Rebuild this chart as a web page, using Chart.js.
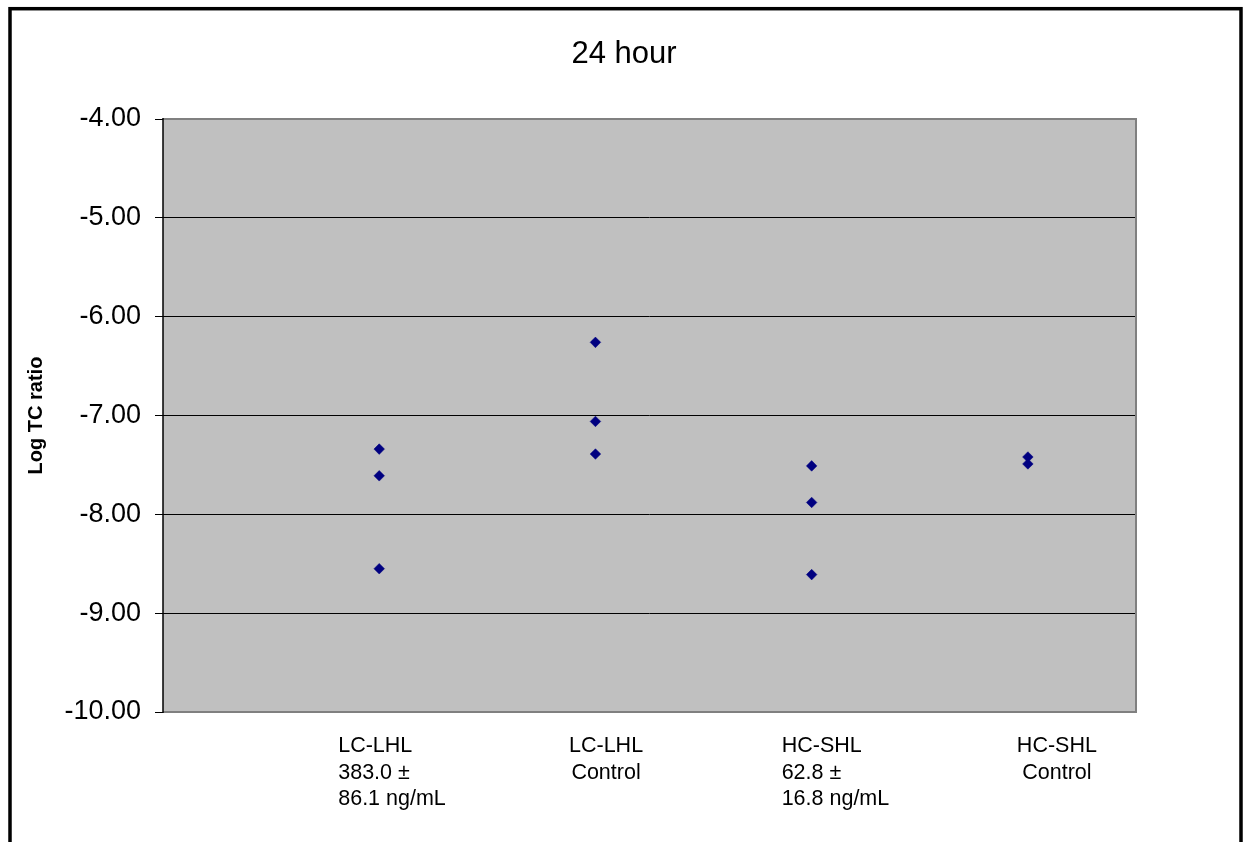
<!DOCTYPE html>
<html>
<head>
<meta charset="utf-8">
<title>24 hour</title>
<script src="https://cdn.jsdelivr.net/npm/chart.js@4.4.0/dist/chart.umd.min.js"></script>
<style>
  html, body { margin: 0; padding: 0; background: #fff; }
  canvas { display: block; }
</style>
</head>
<body>
<canvas id="logChart" width="1248" height="842"></canvas>
<script>
const chartTitle = '24 hour';
const yAxisTitle = 'Log TC ratio';

// one entry per group, lines of the label under the axis
const groupLabels = [
    ['LC-LHL', '383.0 ±', '86.1 ng/mL'],
    ['LC-LHL', 'Control'],
    ['HC-SHL', '62.8 ±', '16.8 ng/mL'],
    ['HC-SHL', 'Control']
];
const groupPositions = [1, 2, 3, 4];

// log TC ratio per replicate
const lcLhlValues = [-7.34, -7.61, -8.55];
const lcLhlControlValues = [-6.26, -7.06, -7.39];
const hcShlValues = [-7.51, -7.88, -8.61];
const hcShlControlValues = [-7.42, -7.49];

const yTicks = [-4, -5, -6, -7, -8, -9, -10];

const groupValues = [lcLhlValues, lcLhlControlValues, hcShlValues, hcShlControlValues];
const points = groupValues.flatMap((vals, i) => vals.map(v => ({ x: groupPositions[i], y: v })));

const FONT = '"Liberation Sans", Arial, sans-serif';

// draws the Excel-like frame, title and the group captions
const excelFrame = {
    id: 'excelFrame',
    beforeDraw(chart) {
        const { ctx, chartArea: a } = chart;
        ctx.save();
        ctx.fillStyle = '#ffffff';
        ctx.fillRect(0, 0, chart.width, chart.height);
        ctx.fillStyle = '#c0c0c0';
        ctx.fillRect(a.left, a.top, a.right - a.left, a.bottom - a.top);
        ctx.restore();
    },
    beforeDatasetsDraw(chart) {
        const { ctx, chartArea: a } = chart;
        ctx.save();
        ctx.strokeStyle = '#808080';
        ctx.lineWidth = 2;
        ctx.beginPath();
        ctx.moveTo(a.left, a.top);
        ctx.lineTo(a.right, a.top);
        ctx.lineTo(a.right, a.bottom);
        ctx.lineTo(a.left, a.bottom);
        ctx.stroke();
        ctx.strokeStyle = '#000000';
        ctx.lineWidth = 1.5;
        ctx.beginPath();
        ctx.moveTo(a.left, a.top - 1);
        ctx.lineTo(a.left, a.bottom + 1);
        ctx.stroke();
        ctx.restore();
    },
    afterDraw(chart, args, opts) {
        const { ctx } = chart;
        const xScale = chart.scales.x;
        ctx.save();
        // outer chart border (bottom edge runs off the picture)
        ctx.strokeStyle = '#000000';
        ctx.lineWidth = 3.5;
        ctx.strokeRect(10, 8.7, 1231, 1000);

        ctx.fillStyle = '#000000';
        ctx.font = '31px ' + FONT;
        ctx.textAlign = 'center';
        ctx.textBaseline = 'alphabetic';
        ctx.fillText(chartTitle, chart.width / 2, 63);

        ctx.font = '21.5px ' + FONT;
        groupLabels.forEach((lines, i) => {
            const x = xScale.getPixelForValue(groupPositions[i]) + opts.offsets[i];
            ctx.textAlign = opts.aligns[i];
            lines.forEach((line, j) => {
                ctx.fillText(line, x, 752 + j * 26.5);
            });
        });
        ctx.restore();
    }
};

new Chart(document.getElementById('logChart'), {
    type: 'scatter',
    data: {
        datasets: [{
            label: 'Log TC ratio',
            data: points,
            pointStyle: 'rectRot',
            pointRadius: 5.3,
            pointHoverRadius: 5.3,
            backgroundColor: '#000080',
            borderColor: '#000080',
            borderWidth: 0.5
        }]
    },
    options: {
        responsive: false,
        animation: false,
        events: [],
        layout: {
            padding: { left: 0, right: 112, top: 119, bottom: 130 }
        },
        plugins: {
            legend: { display: false },
            tooltip: { enabled: false },
            title: { display: false },
            excelFrame: {
                offsets: [-41, 10.6, -30, 29],
                aligns: ['left', 'center', 'left', 'center']
            }
        },
        scales: {
            x: {
                type: 'linear',
                display: false,
                min: 0,
                max: 4.5
            },
            y: {
                min: Math.min(...yTicks),
                max: Math.max(...yTicks),
                afterFit(scale) { scale.width = 163; },
                ticks: {
                    stepSize: 1,
                    padding: 14,
                    color: '#000000',
                    font: { family: FONT, size: 27 },
                    callback: v => v.toFixed(2)
                },
                grid: {
                    color: ctx => (ctx.tick && (ctx.tick.value === -4 || ctx.tick.value === -10)) ? 'rgba(0,0,0,0)' : '#000000',
                    tickColor: '#000000',
                    tickLength: 8,
                    lineWidth: 1
                },
                border: { display: false },
                title: {
                    display: true,
                    text: yAxisTitle,
                    color: '#000000',
                    font: { family: FONT, size: 20, weight: 'bold' },
                    padding: { top: 24, bottom: 0 }
                }
            }
        }
    },
    plugins: [excelFrame]
});
</script>
</body>
</html>
